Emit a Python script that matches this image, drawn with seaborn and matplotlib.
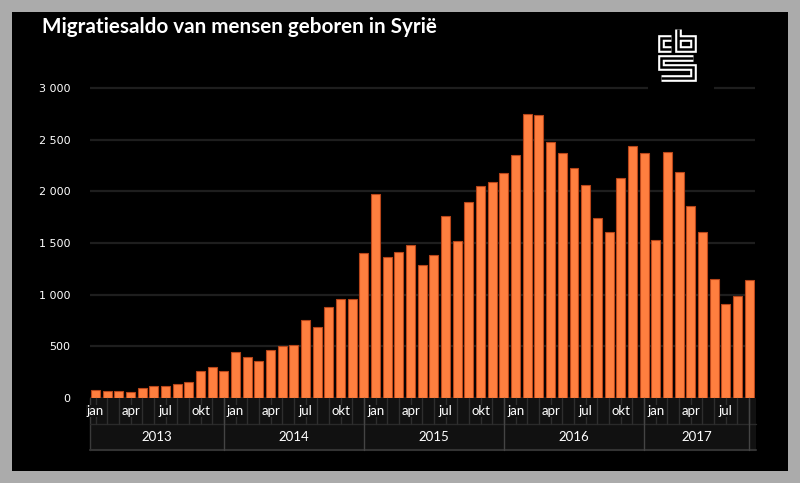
import matplotlib
matplotlib.use("Agg")
import matplotlib.pyplot as plt
import seaborn as sns
import pandas as pd
from matplotlib import font_manager
from matplotlib.patches import Rectangle
from matplotlib.lines import Line2D
from matplotlib.transforms import blended_transform_factory

# ---------------- data ----------------
title = "Migratiesaldo van mensen geboren in Syrië"
years = ["2013", "2014", "2015", "2016", "2017"]
months = ["jan", "feb", "mrt", "apr", "mei", "jun", "jul", "aug", "sep", "okt", "nov", "dec"]
shown_months = ["jan", "apr", "jul", "okt"]
v2013 = [80, 71, 71, 61, 94, 116, 116, 135, 155, 258, 300, 258]
v2014 = [442, 400, 358, 465, 503, 513, 752, 687, 884, 955, 955, 1406]
v2015 = [1975, 1365, 1416, 1477, 1284, 1384, 1765, 1516, 1897, 2052, 2094, 2174]
v2016 = [2348, 2752, 2742, 2474, 2371, 2226, 2061, 1745, 1610, 2126, 2442, 2371]
v2017 = [1526, 2381, 2187, 1855, 1610, 1148, 913, 984, 1139]
yticks = [0, 500, 1000, 1500, 2000, 2500, 3000]

series = [v2013, v2014, v2015, v2016, v2017]
rows = []
for y, vals in zip(years, series):
    for m, v in zip(months, vals):
        rows.append({"key": f"{y}-{m}", "year": y, "month": m, "value": v})
df = pd.DataFrame(rows)

# ---------------- style ----------------
W, H = 800, 483
sns.set_theme(style="dark")
avail = {f.name for f in font_manager.fontManager.ttflist}
cond = "Liberation Sans Narrow" if "Liberation Sans Narrow" in avail else "Lato"
plt.rcParams["font.family"] = ["DejaVu Sans"]

def fx(x):
    return x / W

def fy(y):
    return 1 - y / H

fig = plt.figure(figsize=(W / 100, H / 100), dpi=100)
fig.patch.set_facecolor("#ababab")
fig.add_artist(Rectangle((fx(12), fy(471)), fx(776), (471 - 12) / H,
                         transform=fig.transFigure, facecolor="black",
                         edgecolor="none", zorder=-10))

left, right = 89.67, 754.9
bottom, top = 398, 398 - 3100 * 310 / 3000
ax = fig.add_axes([fx(left), fy(bottom), fx(right - left), (bottom - top) / H])
ax.set_facecolor("none")

sns.barplot(data=df, x="key", y="value", color="#ff7f3f", saturation=1,
            width=0.77, edgecolor="#b8461a", linewidth=0.8, ax=ax)
ax.set_xlim(-0.5, len(df) - 0.5)
ax.set_ylim(0, 3100)
ax.set_xlabel("")
ax.set_ylabel("")
ax.set_xticks([])
ax.set_yticks(yticks)
ax.set_yticklabels([f"{t:,}".replace(",", " ") for t in yticks])
ax.tick_params(axis="y", length=0, pad=14, labelsize=8, labelcolor="white")
for s in ax.spines.values():
    s.set_visible(False)
ax.yaxis.grid(True, color="#1e1e1e", linewidth=1.6)
ax.set_axisbelow(True)
ax.xaxis.grid(False)

# ---------------- category band ----------------
trans = blended_transform_factory(ax.transData, fig.transFigure)
n = len(df)
x0, x1 = -0.5, n - 0.5
mb_top, mb_bot, yb_bot = 398, 424, 450
ax.add_patch(Rectangle((x0, fy(yb_bot)), x1 - x0 + 0.1, (yb_bot - mb_top) / H,
                       transform=trans, facecolor="#111111", edgecolor="none",
                       clip_on=False, zorder=1))
ax.add_line(Line2D([x0, x0], [fy(mb_top), fy(yb_bot)], transform=trans,
                   color="#3a3a3a", lw=1, clip_on=False, zorder=2))
ax.add_line(Line2D([x0, x1 + 0.1], [fy(mb_bot), fy(mb_bot)], transform=trans,
                   color="#2a2a2a", lw=1, clip_on=False, zorder=2))
ax.add_line(Line2D([x0, x1 + 0.1], [fy(yb_bot), fy(yb_bot)], transform=trans,
                   color="#333333", lw=1.5, clip_on=False, zorder=2))
for i in range(n):
    ax.add_line(Line2D([i, i], [fy(mb_top), fy(mb_bot)], transform=trans,
                       color="#2e2e2e", lw=1, clip_on=False, zorder=2))
for i, row in df.iterrows():
    if row["month"] in shown_months:
        ax.text(i, fy(411), row["month"], transform=trans, ha="center",
                va="center", color="white", fontsize=9.5, family=[cond, "DejaVu Sans"],
                zorder=4, clip_on=False,
                bbox=dict(facecolor="#111111", edgecolor="none", pad=0.3))
start = -0.5
for y in years:
    idx = df.index[df["year"] == y]
    end = idx.max()
    ax.add_line(Line2D([end, end], [fy(mb_top), fy(yb_bot)], transform=trans,
                       color="#444444", lw=1, clip_on=False, zorder=3))
    ax.text((start + end) / 2, fy(437), y, transform=trans, ha="center",
            va="center", color="white", fontsize=9.5, family=[cond, "DejaVu Sans"],
            zorder=4, clip_on=False)
    start = end

# ---------------- title ----------------
t = fig.text(fx(42), fy(33), title, color="white", fontsize=14,
             fontweight="bold", family=[cond, "DejaVu Sans"], ha="left", va="baseline")
fig.canvas.draw()
bb = t.get_window_extent()
t.set_fontsize(14 * 398 / bb.width)

# ---------------- logo ----------------
fig.add_artist(Rectangle((fx(648), fy(95)), fx(66), 75 / H, transform=fig.transFigure,
                         facecolor="black", edgecolor="none", zorder=5))
paths = [
    [(671, 38), (661, 38), (661, 49), (671, 49)],
    [(678, 29), (678, 49), (693, 49), (693, 38), (678, 38)],
    [(693, 58), (661, 58), (661, 67), (693, 67), (693, 78), (661, 78)],
]
for p in paths:
    xs = [fx(a) for a, b in p]
    ys = [fy(b) for a, b in p]
    fig.add_artist(Line2D(xs, ys, transform=fig.transFigure, color="white",
                          lw=4.8, solid_joinstyle="miter", solid_capstyle="butt", zorder=6))
    fig.add_artist(Line2D(xs, ys, transform=fig.transFigure, color="black",
                          lw=1.8, solid_joinstyle="miter", solid_capstyle="butt", zorder=7))

fig.savefig("out.png", dpi=100, facecolor=fig.get_facecolor())
